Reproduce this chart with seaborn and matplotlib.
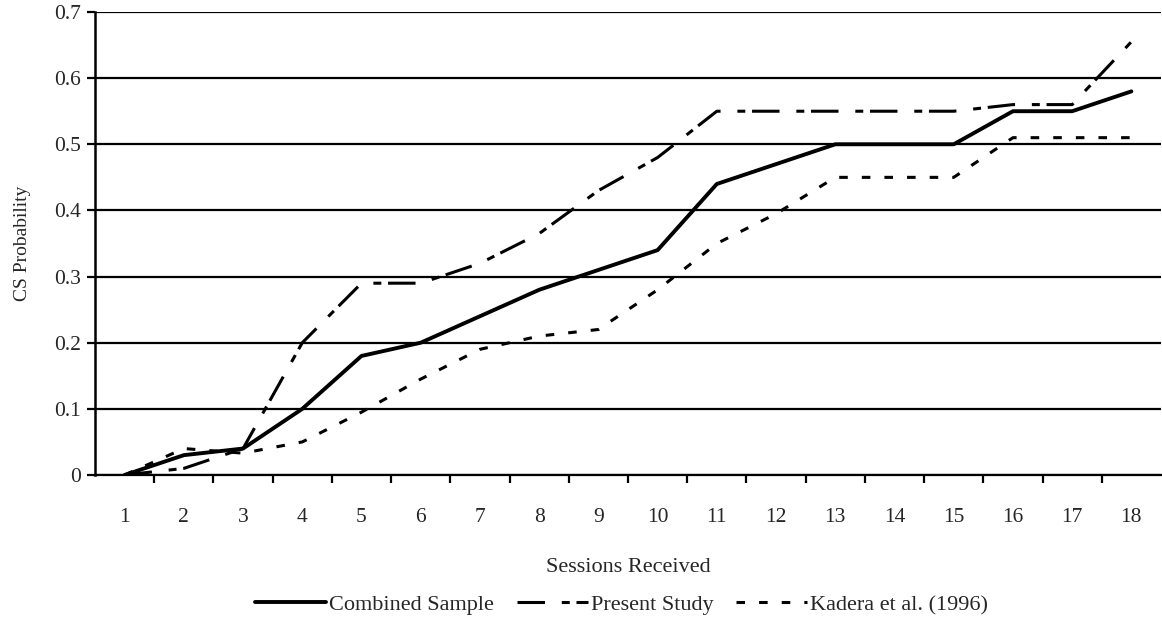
import numpy as np
import pandas as pd
import matplotlib
matplotlib.use("Agg")
import matplotlib.pyplot as plt
from matplotlib.ticker import FixedLocator, NullFormatter
import seaborn as sns

# Probability of clinically significant change by number of sessions
sessions = list(range(1, 19))
combined = [0.00, 0.03, 0.04, 0.10, 0.18, 0.20, 0.24, 0.28, 0.31, 0.34,
            0.44, 0.47, 0.50, 0.50, 0.50, 0.55, 0.55, 0.58]
present = [0.00, 0.01, 0.04, 0.20, 0.29, 0.29, 0.32, 0.365, 0.43, 0.48,
           0.55, 0.55, 0.55, 0.55, 0.55, 0.56, 0.56, 0.655]
kadera = [0.00, 0.04, 0.033, 0.05, 0.095, 0.145, 0.19, 0.21, 0.22, 0.28,
          0.35, 0.395, 0.45, 0.45, 0.45, 0.51, 0.51, 0.51]
series_names = ["Combined Sample", "Present Study", "Kadera et al. (1996)"]
y_ticks = [0, 0.1, 0.2, 0.3, 0.4, 0.5, 0.6, 0.7]
y_labels = ["0", "0.1", "0.2", "0.3", "0.4", "0.5", "0.6", "0.7"]

sns.set_theme(style="white")
plt.rcParams["font.family"] = ["Liberation Serif", "DejaVu Serif"]

fig = plt.figure(figsize=(11.62, 6.25), dpi=100)
ax = fig.add_axes([95 / 1162, 1 - 475 / 625, 1066 / 1162, 463 / 625])

# Horizontal gridlines drawn beneath the data
for yv in y_ticks:
    ax.axhline(yv, color="black", lw=1.6, zorder=1)

styles = {
    "Combined Sample": dict(lw=2.8, linestyle="-"),
    "Present Study": dict(lw=2.2, linestyle=(0, (9, 5.5, 2.6, 2.2))),
    "Kadera et al. (1996)": dict(lw=2.2, linestyle=(0, (2.8, 4.6))),
}
values = {"Combined Sample": combined, "Present Study": present,
          "Kadera et al. (1996)": kadera}

for name in series_names:
    df = pd.DataFrame({"session": sessions, "prob": values[name]})
    st = styles[name]
    sns.lineplot(data=df, x="session", y="prob", ax=ax, color="black",
                 linewidth=st["lw"], linestyle=st["linestyle"], label=name,
                 zorder=3)

ax.set_xlim(0.5, 18.5)
ax.set_ylim(0, 0.7)

# Category-style x axis: labels at sessions, tick marks between them
ax.set_xticks(sessions)
ax.set_xticklabels([str(s) for s in sessions], fontsize=15.5)
ax.xaxis.set_minor_locator(FixedLocator(np.arange(1.5, 18.5, 1.0)))
ax.xaxis.set_minor_formatter(NullFormatter())
ax.tick_params(axis="x", which="major", length=0, pad=24)
ax.tick_params(axis="x", which="minor", length=6, width=1.6, color="black",
               direction="out", bottom=True)
ax.set_yticks(y_ticks)
ax.set_yticklabels(y_labels, fontsize=15.5)
ax.tick_params(axis="y", which="major", length=6, width=1.6, color="black",
               direction="out", left=True, pad=4)

for side in ["top", "right"]:
    ax.spines[side].set_visible(False)
ax.spines["left"].set_color("black")
ax.spines["left"].set_linewidth(1.8)
ax.spines["bottom"].set_color("black")
ax.spines["bottom"].set_linewidth(1.6)

ax.set_xlabel("Sessions Received", fontsize=16)
ax.xaxis.set_label_coords(0.5, -0.18)
ax.set_ylabel("CS Probability", fontsize=14)
ax.yaxis.set_label_coords(-0.06, 0.5)

ax.get_legend().remove()
handles, labels = ax.get_legend_handles_labels()
fig.legend(handles, labels, loc="center", ncol=3, frameon=False,
           fontsize=16, handlelength=3.2, columnspacing=1.0,
           handletextpad=0.15, bbox_to_anchor=(0.535, 1 - 605 / 625))

fig.savefig("out.png", dpi=100, facecolor="white")
